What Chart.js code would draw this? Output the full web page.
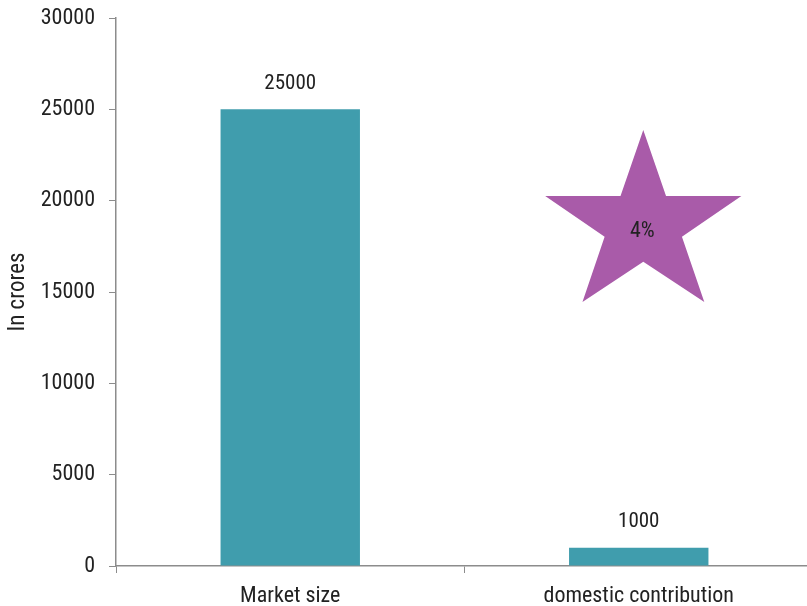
<!DOCTYPE html>
<html>
<head>
<meta charset="utf-8">
<script src="https://cdn.jsdelivr.net/npm/chart.js@4/dist/chart.umd.min.js"></script>
<style>
html, body { margin:0; padding:0; overflow:hidden; background:#fff; }
#wrap { width:813px; height:606px; position:relative; }
</style>
</head>
<body>
<div id="wrap"><canvas id="c"></canvas></div>
<script>
const categories = ['Market size', 'domestic contribution'];
const values = [25000, 1000];
const yMin = 0, yMax = 30000, yStep = 5000;
const yTitle = 'In crores';
// star callout (percentage of domestic contribution in market size)
const starLabel = '4%';
const starCategory = 1;
const starTopValue = 23870;
const starBottomValue = 14450;

const FONT = '"Liberation Sans Narrow", "Roboto Condensed", "DejaVu Sans Condensed", sans-serif';
const AXIS = '#8c8c8c';
const TEXT = '#222222';

const valueLabels = {
  id: 'valueLabels',
  afterDatasetsDraw(chart) {
    const ctx = chart.ctx;
    const meta = chart.getDatasetMeta(0);
    ctx.save();
    ctx.font = '21px ' + FONT;
    ctx.fillStyle = TEXT;
    ctx.textAlign = 'center';
    ctx.textBaseline = 'middle';
    meta.data.forEach((bar, i) => {
      ctx.fillText(String(values[i]), bar.x, bar.y - 26);
    });
    ctx.restore();
  }
};

const starPlugin = {
  id: 'starPlugin',
  afterDatasetsDraw(chart) {
    const ctx = chart.ctx;
    const xs = chart.scales.x, ys = chart.scales.y;
    const catW = xs.getPixelForValue(1) - xs.getPixelForValue(0);
    const cx = xs.getPixelForValue(starCategory) + catW * 0.013;
    const w = catW * 0.563;
    const top = ys.getPixelForValue(starTopValue);
    const bot = ys.getPixelForValue(starBottomValue);
    const h = bot - top;
    const left = cx - w / 2;
    const pts = [[0.5,0],[0.616,0.384],[1,0.384],[0.697,0.620],[0.811,1],[0.5,0.766],[0.190,1],[0.303,0.620],[0,0.384],[0.384,0.384]];
    ctx.save();
    ctx.beginPath();
    pts.forEach((p, i) => {
      const px = left + p[0] * w, py = top + p[1] * h;
      if (i === 0) ctx.moveTo(px, py); else ctx.lineTo(px, py);
    });
    ctx.closePath();
    ctx.fillStyle = '#A95BA9';
    ctx.fill();
    ctx.font = '22px ' + FONT;
    ctx.fillStyle = TEXT;
    ctx.textAlign = 'center';
    ctx.textBaseline = 'middle';
    ctx.fillText(starLabel, cx - 1, top + h * 0.59);
    ctx.restore();
  }
};

new Chart(document.getElementById('c'), {
  type: 'bar',
  data: {
    labels: categories,
    datasets: [{
      data: values,
      backgroundColor: '#409DAD',
      barPercentage: 0.4,
      categoryPercentage: 1.0
    }]
  },
  options: {
    responsive: true,
    maintainAspectRatio: false,
    animation: false,
    layout: { padding: { top: 18, left: 0, right: 0, bottom: 0 } },
    plugins: { legend: { display: false }, tooltip: { enabled: false } },
    scales: {
      x: {
        grid: { display: true, drawOnChartArea: false, drawTicks: true, tickLength: 7, color: AXIS, lineWidth: 1, offset: true },
        border: { display: true, color: AXIS, width: 1.5 },
        ticks: { color: TEXT, font: { family: FONT, size: 22 }, padding: 10, maxRotation: 0 },
        afterFit(s) { s.height = 40; s.paddingLeft = 0; s.paddingRight = 0; }
      },
      y: {
        min: yMin, max: yMax,
        grid: { display: true, drawOnChartArea: false, drawTicks: true, tickLength: 7, color: AXIS, lineWidth: 1 },
        border: { display: true, color: AXIS, width: 1.5 },
        ticks: { stepSize: yStep, color: TEXT, font: { family: FONT, size: 22 }, padding: 14, callback: v => String(v) },
        title: { display: true, text: yTitle, color: TEXT, font: { family: FONT, size: 23 }, padding: { top: 4, bottom: 0 } },
        afterFit(s) { s.width = 116; s.paddingTop = 0; s.paddingBottom = 0; }
      }
    }
  },
  plugins: [valueLabels, starPlugin]
});
</script>
</body>
</html>
